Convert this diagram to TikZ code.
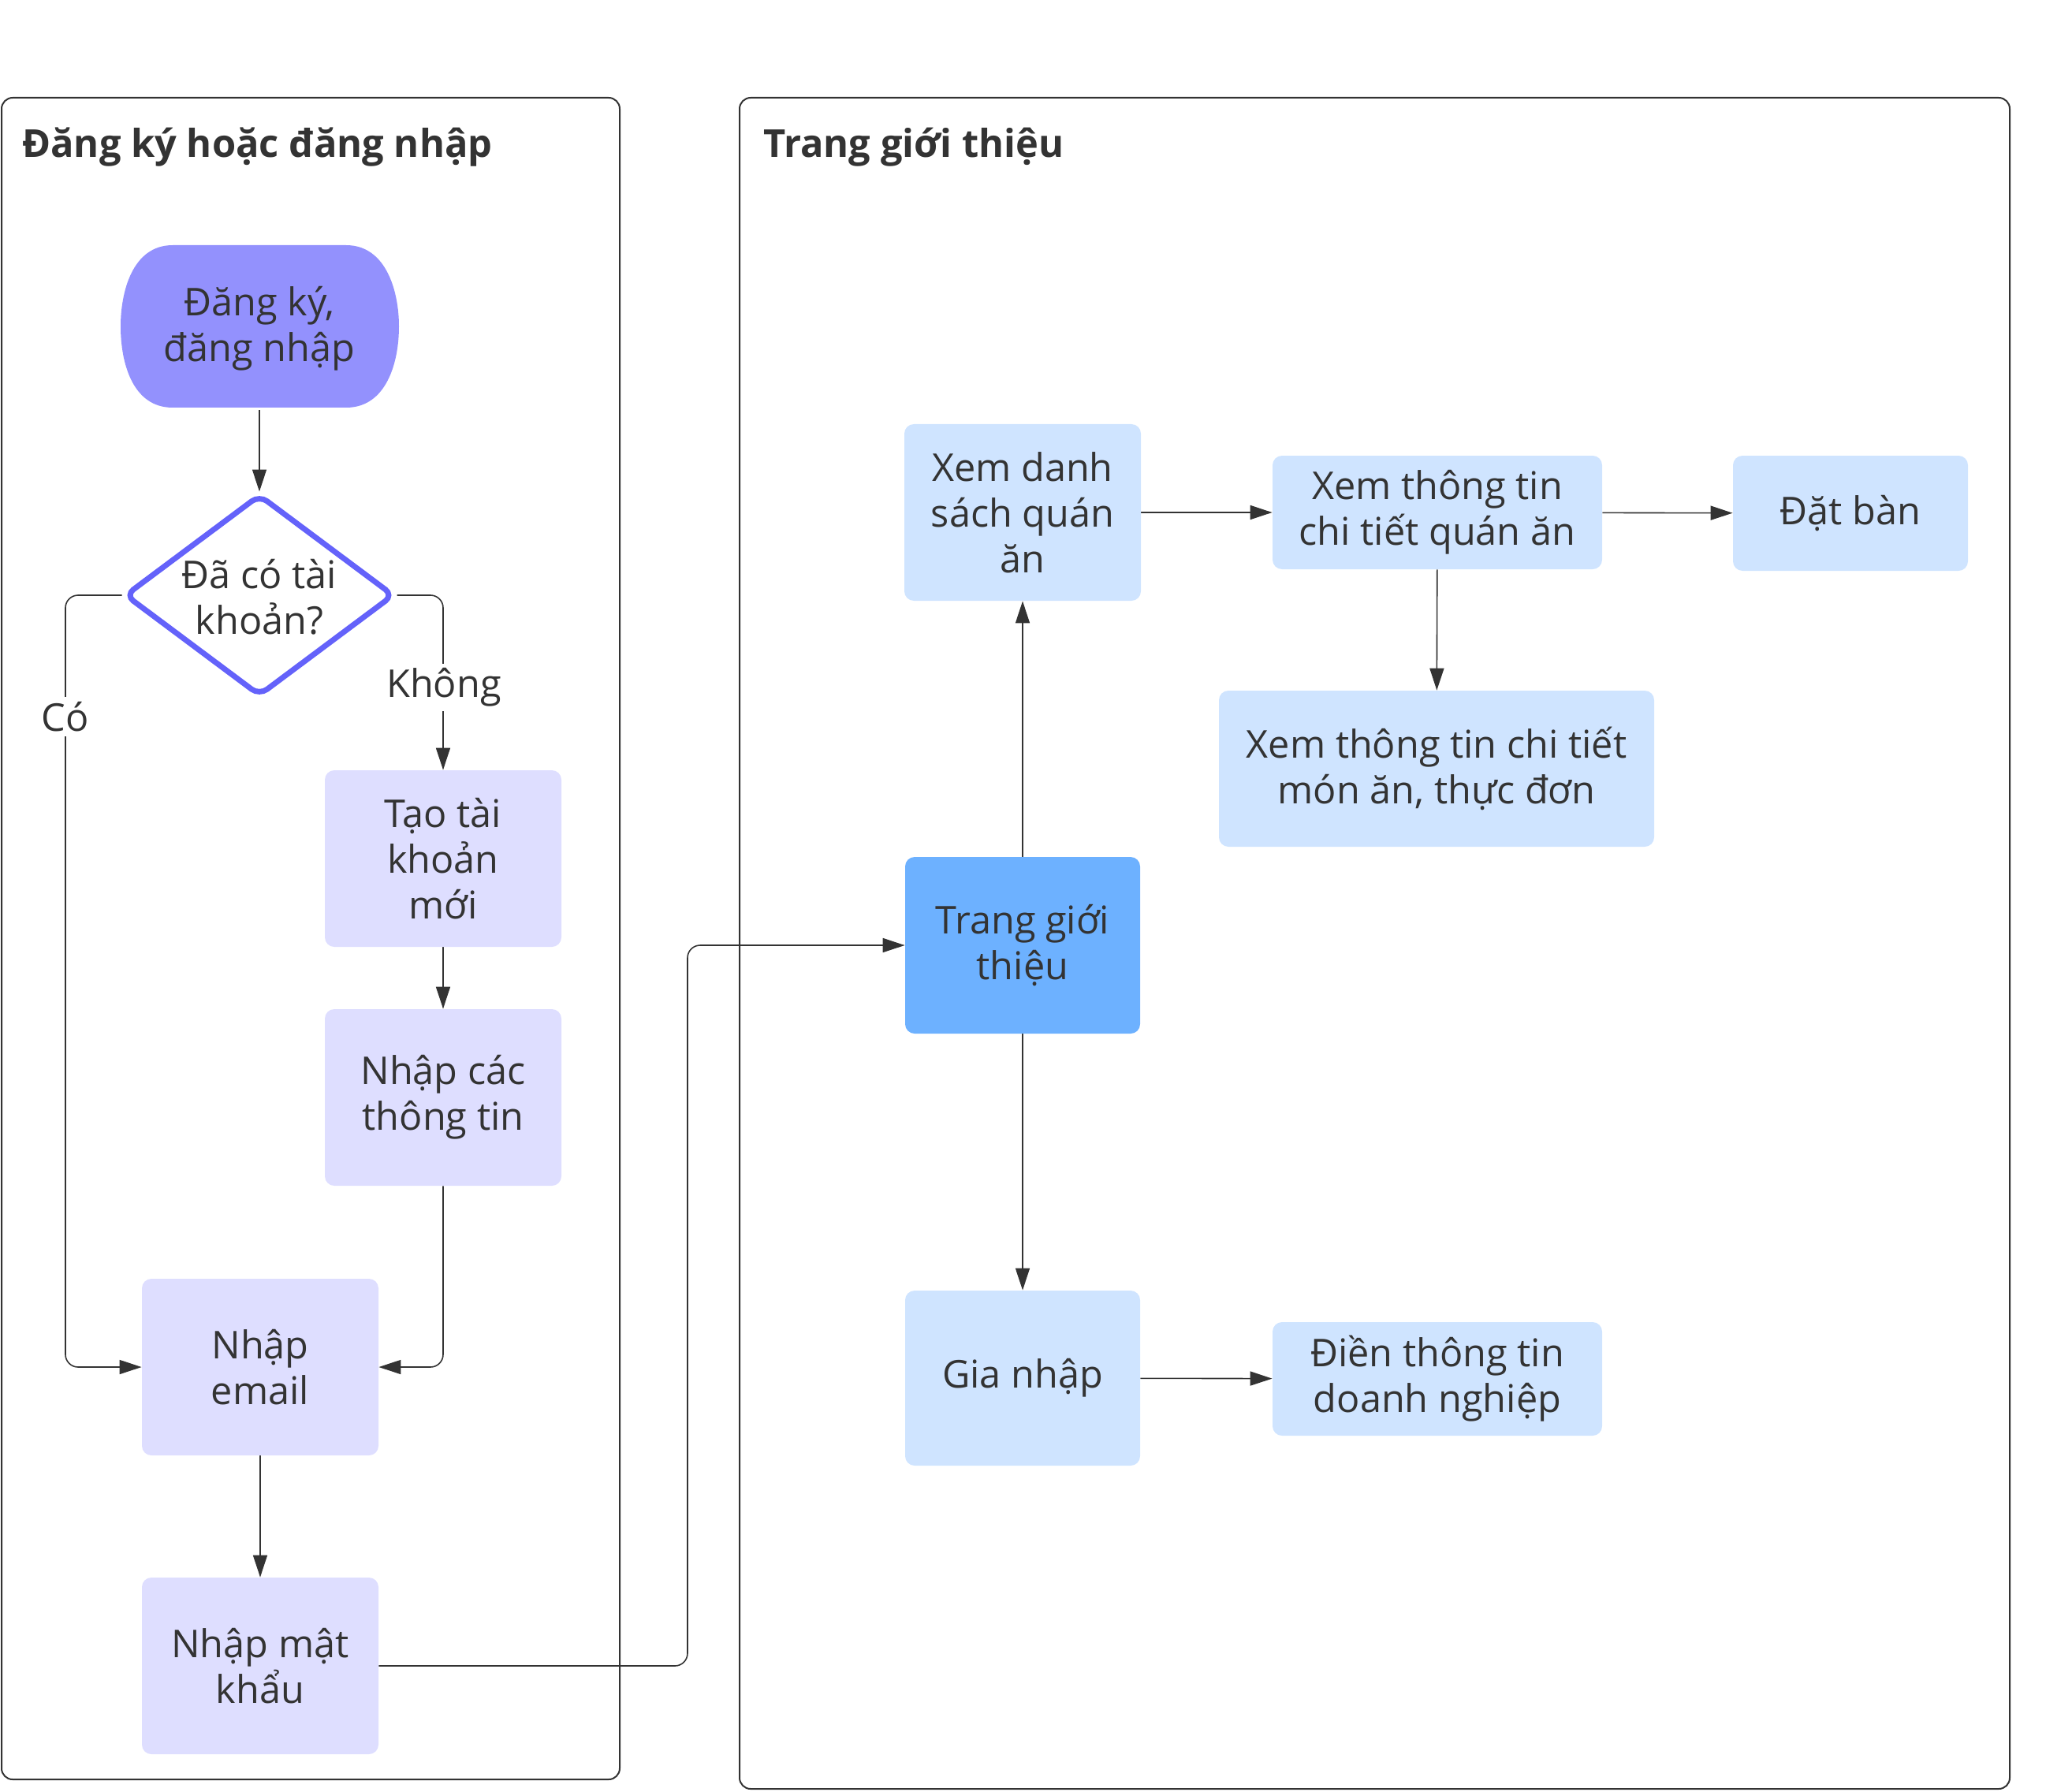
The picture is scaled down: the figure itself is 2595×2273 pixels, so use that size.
\documentclass[tikz,border=0pt]{standalone}
\usepackage{fontspec}
\setmainfont{Open Sans}
\usetikzlibrary{arrows.meta,shapes.geometric,backgrounds}
\definecolor{txt}{HTML}{333333}
\definecolor{lav}{HTML}{DEDEFF}
\definecolor{lblue}{HTML}{CFE4FF}
\definecolor{mblue}{HTML}{6DB1FF}
\definecolor{startc}{HTML}{9391FD}
\definecolor{diac}{HTML}{6462FA}
\begin{document}
\begin{tikzpicture}[x=0.5pt,y=-0.5pt,
  font=\fontsize{24.3}{29}\selectfont, text=txt,
  box/.style={rounded corners=6pt, minimum width=150pt, minimum height=112pt, align=center, inner sep=0pt},
  lavbox/.style={box, fill=lav},
  bluebox/.style={box, fill=lblue},
  conn/.style={draw=txt, line width=0.8pt, -{Triangle[length=14pt,width=9pt]}, rounded corners=8pt},
  frm/.style={draw=txt, line width=1pt, rounded corners=7pt},
  ttl/.style={font=\fontsize{24.4}{29}\selectfont\bfseries, anchor=base west, inner sep=0pt},
  lbl/.style={fill=white, inner sep=3pt}
]
\useasboundingbox (0,0) rectangle (2595,2273);

% titles
\node[ttl] (t1) at (28,200) {Đăng ký hoặc đăng nhập};
\node[ttl] (t2) at (968,200) {Trang giới thiệu};

% start terminal
\fill[startc] (219,311) -- (439,311) .. controls (490,311) and (506,370) .. (506,414)
  .. controls (506,460) and (490,517) .. (439,517) -- (219,517)
  .. controls (168,517) and (153,460) .. (153,414)
  .. controls (153,370) and (168,311) .. (219,311) -- cycle;
\node[align=center, minimum width=175pt, minimum height=103pt, inner sep=0pt] (start) at (329,417) {Đăng ký,\\đăng nhập};

% decision
\node[diamond, draw=diac, line width=3.5pt, fill=white, rounded corners=6pt,
  minimum width=171pt, minimum height=128pt, inner sep=0pt] (dia) at (329,755) {};
\node[align=center, inner sep=0pt] (diatext) at (329,757) {Đã có tài\\khoản?};

\node[lavbox] (tao) at (562,1089) {Tạo tài\\khoản\\mới};
\node[lavbox] (nct) at (562,1392) {Nhập các\\thông tin};
\node[lavbox] (email) at (330,1734) {Nhập\\email};
\node[lavbox] (mk) at (330,2113) {Nhập mật\\khẩu};

\node[box, fill=mblue, minimum width=149pt] (trang) at (1297,1199) {Trang giới\\thiệu};
\node[bluebox] (xds) at (1297,650) {Xem danh\\sách quán\\ăn};
\node[bluebox, minimum width=209pt, minimum height=72pt] (xtt) at (1823,650) {Xem thông tin\\chi tiết quán ăn};
\node[bluebox, minimum width=149pt, minimum height=73pt] (dat) at (2347,651) {Đặt bàn};
\node[bluebox, minimum width=276pt, minimum height=99pt] (xmon) at (1822,975) {Xem thông tin chi tiết\\món ăn, thực đơn};
\node[bluebox, minimum width=149pt, minimum height=111pt] (gia) at (1297,1748) {Gia nhập};
\node[bluebox, minimum width=209pt, minimum height=72pt] (dien) at (1823,1749) {Điền thông tin\\doanh nghiệp};

\node[lbl] (lco) at (83,909) {Có};
\node[lbl] (lkhong) at (563,872) {Không};

\coordinate (cx) at (83,1200);
\coordinate (jx) at (872,1600);

\begin{pgfonlayer}{background}
\draw[frm] (2,124) rectangle (786,2257);
\draw[frm] (938,124) rectangle (2549,2269);

\draw[conn] (start.south) -- (dia.north);
\draw[conn] (dia.west) -| (cx) |- (email.west);
\draw[conn] (dia.east) -| (tao.north);
\draw[conn] (tao) -- (nct);
\draw[conn] (nct.south) |- (email.east);
\draw[conn] (email) -- (mk);
\draw[conn] (mk.east) -| (jx) |- (trang.west);
\draw[conn] (trang) -- (xds);
\draw[conn] (trang) -- (gia);
\draw[conn] (xds) -- (xtt);
\draw[conn] (xtt) -- (dat);
\draw[conn] (xtt) -- (xmon);
\draw[conn] (gia) -- (dien);
\end{pgfonlayer}
\end{tikzpicture}
\end{document}
